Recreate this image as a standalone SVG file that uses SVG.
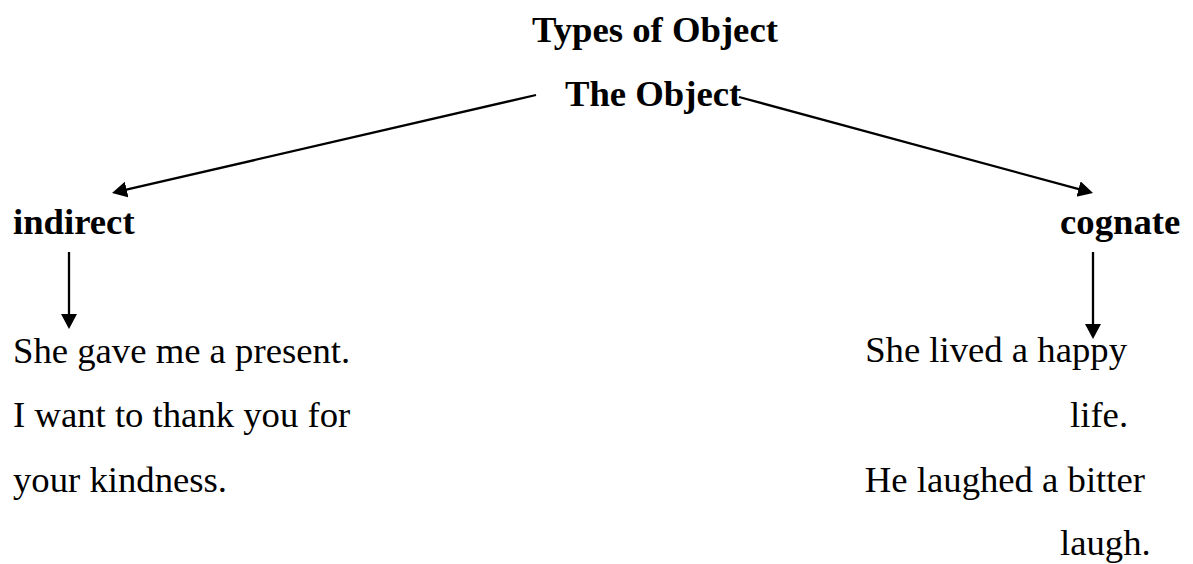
<svg xmlns="http://www.w3.org/2000/svg" width="1193" height="564" viewBox="0 0 1193 564">
  <defs>
    <style>
      text { font-family: "Liberation Serif", "Times New Roman", serif; font-size: 36.7px; fill: #000; }
      .head { font-weight: bold; }
      .link { stroke: #000; stroke-width: 2.3; fill: none; marker-end: url(#arrow); }
    </style>
    <marker id="arrow" markerUnits="userSpaceOnUse" markerWidth="18" markerHeight="18" refX="7" refY="8" orient="auto">
      <path d="M0,0 L15,8 L0,16 Z" fill="#000"/>
    </marker>
  </defs>
  <rect width="1193" height="564" fill="#fff"/>

  <g id="title">
    <text class="head" x="532" y="42">Types of Object</text>
  </g>

  <g id="root">
    <text class="head" x="565" y="106">The Object</text>
  </g>

  <g id="indirect">
    <text class="head" x="13" y="234">indirect</text>
  </g>

  <g id="cognate">
    <text class="head" x="1060" y="234">cognate</text>
  </g>

  <g id="indirect-examples">
    <text x="13" y="363">She gave me a present.</text>
    <text x="13" y="427">I want to thank you for</text>
    <text x="13" y="492">your kindness.</text>
  </g>

  <g id="cognate-examples">
    <text x="1127" y="362" text-anchor="end">She lived a happy</text>
    <text x="1070" y="427">life.</text>
    <text x="1145" y="492" text-anchor="end">He laughed a bitter</text>
    <text x="1060" y="555">laugh.</text>
  </g>

  <g id="connectors">
    <line class="link" x1="536" y1="95" x2="119.8" y2="191.2"/>
    <line class="link" x1="739" y1="97" x2="1085.3" y2="190.9"/>
    <line class="link" x1="69" y1="252" x2="69" y2="321"/>
    <line class="link" x1="1093" y1="252" x2="1093" y2="331"/>
  </g>
</svg>
